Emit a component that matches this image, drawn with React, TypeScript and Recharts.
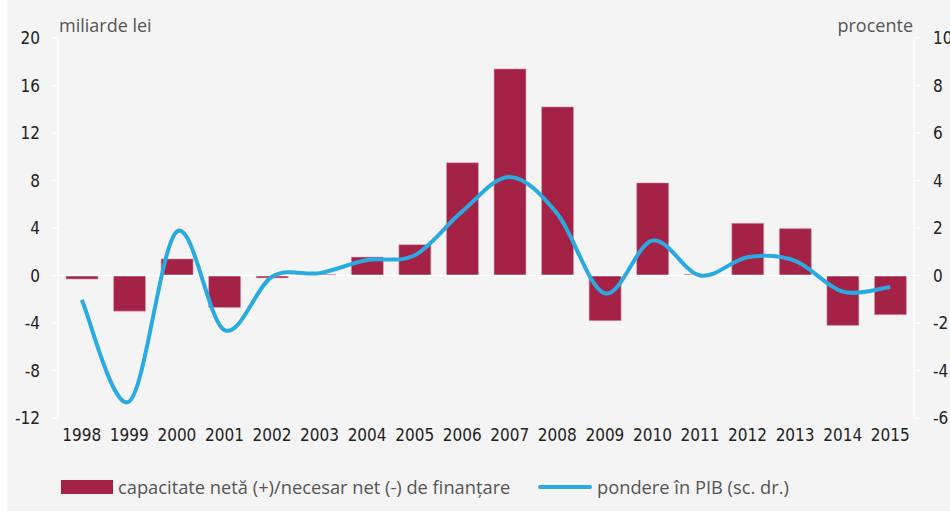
import { ComposedChart, Bar, Line, XAxis, YAxis, ReferenceLine } from 'recharts';

const years = ['1998', '1999', '2000', '2001', '2002', '2003', '2004', '2005', '2006', '2007', '2008', '2009', '2010', '2011', '2012', '2013', '2014', '2015'];
const netLending = [-0.3, -3.0, 1.4, -2.7, -0.2, 0.1, 1.55, 2.6, 9.5, 17.4, 14.2, -3.8, 7.8, 0.1, 4.4, 3.95, -4.2, -3.3];
const shareOfGdp = [-1.03, -5.3, 1.85, -2.3, -0.05, 0.1, 0.65, 0.85, 2.7, 4.15, 2.6, -0.75, 1.47, 0.0, 0.77, 0.62, -0.68, -0.48];
const leftTicks = [-12, -8, -4, 0, 4, 8, 12, 16, 20];
const rightTicks = [-6, -4, -2, 0, 2, 4, 6, 8, 10];

const data = years.map((year, i) => ({ year, netLending: netLending[i], share: shareOfGdp[i] }));

const BAR = '#a32246';
const LINE = '#29abe2';
const tickFont = { fontFamily: '"Liberation Sans Narrow", "DejaVu Sans Condensed", sans-serif', fontSize: 17, fill: '#222' };
const textFont = '"Open Sans", sans-serif';

// smooth line the way spreadsheet charts do it (catmull-rom through the points)
const smoothCurve = (context: any) => {
  let pts: number[][] = [];
  return {
    areaStart() {},
    areaEnd() {},
    lineStart() {
      pts = [];
    },
    point(x: number, y: number) {
      pts.push([+x, +y]);
    },
    lineEnd() {
      if (!pts.length) return;
      context.moveTo(pts[0][0], pts[0][1]);
      for (let i = 0; i < pts.length - 1; i++) {
        const p0 = pts[Math.max(0, i - 1)];
        const p1 = pts[i];
        const p2 = pts[i + 1];
        const p3 = pts[Math.min(pts.length - 1, i + 2)];
        const t = 1 / 6;
        context.bezierCurveTo(
          p1[0] + (p2[0] - p0[0]) * t,
          p1[1] + (p2[1] - p0[1]) * t,
          p2[0] - (p3[0] - p1[0]) * t,
          p2[1] - (p3[1] - p1[1]) * t,
          p2[0],
          p2[1]
        );
      }
    },
  };
};

export default function App() {
  return (
    <div style={{ position: 'absolute', left: 0, top: 0, width: 950, height: 513, background: '#fff' }}>
      <div style={{ position: 'absolute', left: 7, top: 0, width: 943, height: 511, background: '#f4f4f4' }} />
      <div style={{ position: 'absolute', left: 59, top: 13, fontFamily: textFont, fontSize: 18, color: '#555' }}>miliarde lei</div>
      <div style={{ position: 'absolute', right: 37, top: 13, fontFamily: textFont, fontSize: 18, color: '#555' }}>procente</div>
      <div style={{ position: 'absolute', left: 0, top: 0 }}>
        <ComposedChart width={950} height={513} data={data} margin={{ top: 38, right: 0, bottom: 65, left: 0 }} barSize={32}>
          <XAxis dataKey="year" axisLine={false} tickLine={false} tickSize={0} tickMargin={11} height={30} interval={0} tick={tickFont} />
          <YAxis
            yAxisId="left"
            width={58}
            domain={[-12, 20]}
            ticks={leftTicks}
            interval={0}
            stroke="#fff"
            axisLine={{ stroke: '#fff', strokeWidth: 1.5 }}
            tickLine={{ stroke: '#fff', strokeWidth: 1.5 }}
            tickSize={6}
            tickMargin={12}
            tick={tickFont}
          />
          <YAxis
            yAxisId="right"
            orientation="right"
            width={36}
            domain={[-6, 10]}
            ticks={rightTicks}
            interval={0}
            axisLine={{ stroke: '#fff', strokeWidth: 1.5 }}
            tickLine={{ stroke: '#fff', strokeWidth: 1.5 }}
            tickSize={6}
            tickMargin={13}
            tick={{ ...tickFont, textAnchor: 'start' }}
          />
          <ReferenceLine yAxisId="left" y={0} stroke="#fff" strokeWidth={1.5} />
          <Bar yAxisId="left" dataKey="netLending" fill={BAR} stroke="#d9a3b3" strokeWidth={0.6} isAnimationActive={false} />
          <Line yAxisId="right" dataKey="share" type={smoothCurve as any} stroke={LINE} strokeWidth={4} dot={false} isAnimationActive={false} />
        </ComposedChart>
      </div>
      <div style={{ position: 'absolute', left: 61, top: 480, width: 52, height: 14, background: BAR }} />
      <div style={{ position: 'absolute', left: 118, top: 474, fontFamily: textFont, fontSize: 18.3, color: '#555', whiteSpace: 'nowrap' }}>
        capacitate netă (+)/necesar net (-) de finanțare
      </div>
      <div style={{ position: 'absolute', left: 538, top: 485, width: 54, height: 4, borderRadius: 2, background: LINE }} />
      <div style={{ position: 'absolute', left: 597, top: 474, fontFamily: textFont, fontSize: 18.3, color: '#555', whiteSpace: 'nowrap' }}>
        pondere în PIB (sc. dr.)
      </div>
    </div>
  );
}
